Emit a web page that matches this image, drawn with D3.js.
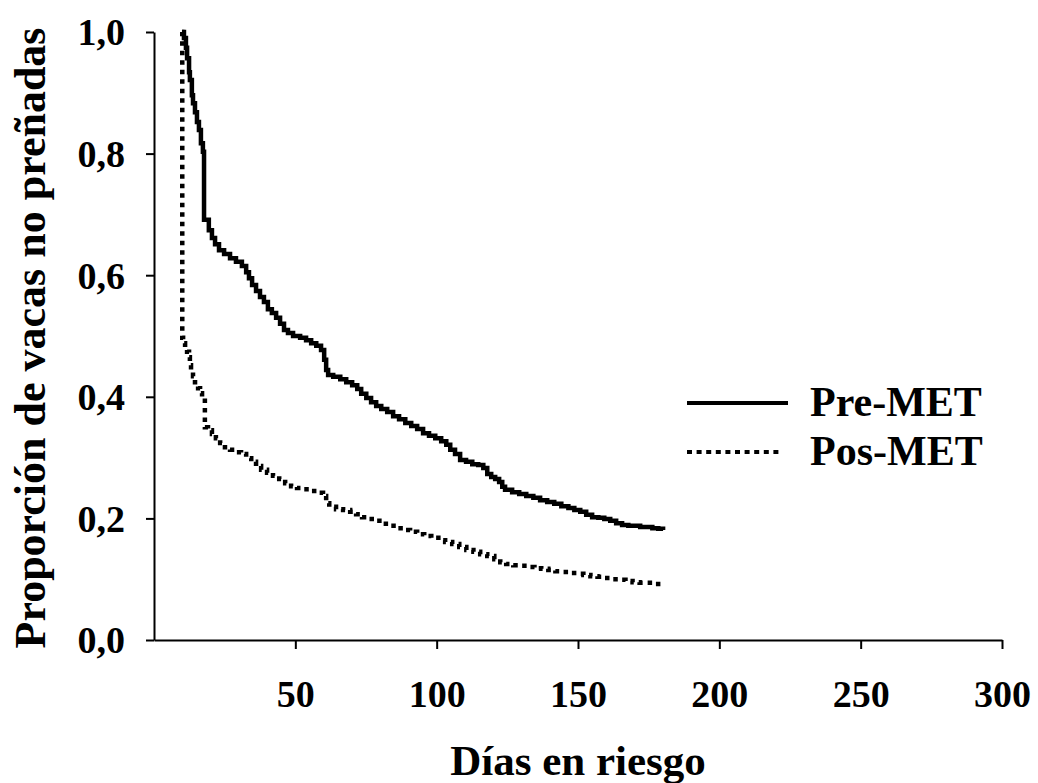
<!DOCTYPE html>
<html>
<head>
<meta charset="utf-8">
<script src="https://cdn.jsdelivr.net/npm/d3@7"></script>
<style>
    body { margin: 0; background: #fff; }
    #chart text { font-family: "Liberation Serif", "Times New Roman", serif; font-weight: bold; fill: #000; }
</style>
</head>
<body>
<div id="chart"></div>
<script>
// Curvas de supervivencia (Kaplan-Meier) - proporción de vacas no preñadas

const xTicks = [50, 100, 150, 200, 250, 300];
const yTicks = [0, 0.2, 0.4, 0.6, 0.8, 1.0];
const seriesNames = ['Pre-MET', 'Pos-MET'];

// Pre-MET: día y proporción después de cada escalón
const preDays = [9.9, 10.6, 11.3, 11.7, 12.4, 12.7, 13.4, 13.8, 14.5, 15.2, 15.9, 16.6, 17.3, 17.7, 19.4, 20.5,
    21.6, 23.0, 24.8, 26.9, 29.0, 31.1, 32.6, 33.6, 34.7, 36.1, 37.5, 38.9, 40.3, 41.7, 43.2, 44.6, 46.0, 47.4,
    49.2, 51.7, 53.8, 55.6, 57.4, 59.1, 60.2, 60.9, 61.6, 63.4, 65.9, 68.0, 70.1, 71.9, 73.3, 75.1, 76.8, 78.6,
    80.4, 82.5, 84.6, 86.7, 88.9, 91.0, 93.1, 95.2, 97.3, 99.5, 101.6, 103.4, 104.8, 106.5, 108.3, 110.4, 112.6,
    114.7, 116.5, 117.9, 119.3, 120.7, 122.1, 123.2, 124.2, 126.7, 129.2, 131.7, 134.2, 136.6, 139.1, 141.6,
    144.1, 146.6, 148.7, 150.8, 152.9, 155.0, 157.2, 159.3, 161.4, 163.5, 165.6, 167.8, 169.9, 172.0, 174.1,
    176.3, 178.4, 180.1];
const preSurv = [1.000, 0.990, 0.974, 0.957, 0.934, 0.921, 0.896, 0.883, 0.868, 0.852, 0.839, 0.817, 0.803, 0.691,
    0.674, 0.661, 0.651, 0.641, 0.635, 0.628, 0.622, 0.615, 0.605, 0.595, 0.584, 0.574, 0.564, 0.556, 0.544, 0.538,
    0.530, 0.520, 0.510, 0.505, 0.500, 0.497, 0.493, 0.488, 0.484, 0.477, 0.461, 0.444, 0.436, 0.433, 0.429, 0.424,
    0.419, 0.413, 0.405, 0.398, 0.391, 0.385, 0.380, 0.375, 0.368, 0.363, 0.357, 0.352, 0.347, 0.340, 0.336, 0.332,
    0.327, 0.321, 0.313, 0.306, 0.296, 0.293, 0.289, 0.288, 0.283, 0.273, 0.268, 0.265, 0.260, 0.252, 0.247, 0.243,
    0.240, 0.237, 0.234, 0.230, 0.227, 0.224, 0.220, 0.217, 0.214, 0.211, 0.206, 0.202, 0.201, 0.199, 0.196, 0.192,
    0.189, 0.188, 0.188, 0.186, 0.186, 0.184, 0.183, 0.181];

// Pos-MET
const posDays = [9.9, 10.0, 10.3, 11.0, 11.7, 12.4, 12.7, 13.1, 13.8, 14.5, 15.6, 16.3, 17.0, 18.0, 19.1, 20.5,
    21.9, 23.4, 25.1, 26.9, 29.0, 30.8, 32.6, 34.4, 36.1, 37.9, 40.0, 42.1, 44.3, 46.4, 48.5, 50.6, 53.1, 55.6,
    58.0, 59.8, 60.9, 62.0, 64.4, 66.9, 69.4, 71.5, 73.6, 75.7, 78.2, 80.7, 83.2, 85.6, 88.1, 90.6, 93.1, 95.6,
    98.1, 100.6, 103.0, 105.5, 108.0, 110.5, 113.0, 115.4, 117.9, 120.4, 122.5, 124.6, 127.1, 129.6, 132.1, 134.6,
    137.0, 139.5, 142.0, 144.5, 147.0, 149.5, 151.9, 154.4, 156.9, 159.4, 161.9, 164.4, 166.8, 169.3, 171.8,
    174.3, 176.8, 180.1];
const posSurv = [1.000, 0.497, 0.488, 0.482, 0.474, 0.465, 0.452, 0.444, 0.434, 0.424, 0.414, 0.406, 0.398, 0.350,
    0.345, 0.339, 0.332, 0.324, 0.317, 0.313, 0.309, 0.306, 0.299, 0.293, 0.286, 0.280, 0.275, 0.270, 0.265, 0.258,
    0.253, 0.250, 0.248, 0.245, 0.242, 0.237, 0.225, 0.219, 0.215, 0.214, 0.211, 0.207, 0.202, 0.199, 0.196, 0.191,
    0.188, 0.184, 0.181, 0.178, 0.174, 0.171, 0.168, 0.164, 0.161, 0.158, 0.153, 0.148, 0.145, 0.141, 0.138, 0.133,
    0.128, 0.125, 0.123, 0.122, 0.120, 0.118, 0.117, 0.115, 0.113, 0.112, 0.110, 0.109, 0.107, 0.105, 0.104, 0.102,
    0.100, 0.099, 0.097, 0.095, 0.094, 0.094, 0.092, 0.092];

const width = 1038;
const height = 783;
const margin = { top: 32, right: 36, bottom: 143, left: 154 };

const svg = d3.select('#chart')
    .append('svg')
    .attr('width', width)
    .attr('height', height);

const x = d3.scaleLinear()
    .domain([0, 300])
    .range([margin.left, width - margin.right]);

const y = d3.scaleLinear()
    .domain([0, 1])
    .range([height - margin.bottom, margin.top]);

// formato con coma decimal
const esFormat = d3.formatLocale({ decimal: ',', thousands: '.', grouping: [3], currency: ['', '€'] }).format('.1f');

// eje X
const xAxis = svg.append('g')
    .attr('transform', `translate(0,${y(0)})`)
    .call(d3.axisBottom(x).tickValues(xTicks).tickSize(9).tickSizeOuter(0).tickFormat(d3.format('d')));

xAxis.select('.domain').attr('stroke-width', 2);
xAxis.selectAll('.tick line').attr('stroke-width', 2);
xAxis.selectAll('.tick text')
    .attr('y', 67)
    .attr('dy', 0)
    .style('font-size', '38px');

// eje Y
const yAxis = svg.append('g')
    .attr('transform', `translate(${x(0)},0)`)
    .call(d3.axisLeft(y).tickValues(yTicks).tickSize(8).tickSizeOuter(0).tickFormat(esFormat));

yAxis.select('.domain').attr('stroke-width', 2);
yAxis.selectAll('.tick line').attr('stroke-width', 2);
yAxis.selectAll('.tick text')
    .attr('x', -29)
    .attr('dy', '0.34em')
    .style('font-size', '38px');

// títulos de los ejes
svg.append('text')
    .attr('x', (x.range()[0] + x.range()[1]) / 2)
    .attr('y', 775)
    .attr('text-anchor', 'middle')
    .style('font-size', '43px')
    .text('Días en riesgo');

svg.append('text')
    .attr('transform', `translate(45,${(y.range()[0] + y.range()[1]) / 2 + 2}) rotate(-90)`)
    .attr('text-anchor', 'middle')
    .style('font-size', '44px')
    .text('Proporción de vacas no preñadas');

// curvas escalonadas
const line = d3.line()
    .x(d => x(d[0]))
    .y(d => y(d[1]))
    .curve(d3.curveStepAfter);

const preData = preDays.map((d, i) => [d, preSurv[i]]);
const posData = posDays.map((d, i) => [d, posSurv[i]]);

svg.append('path')
    .datum(posData)
    .attr('d', line)
    .attr('fill', 'none')
    .attr('stroke', '#000')
    .attr('stroke-width', 4.5)
    .attr('stroke-dasharray', '4.5,5');

svg.append('path')
    .datum(preData)
    .attr('d', line)
    .attr('fill', 'none')
    .attr('stroke', '#000')
    .attr('stroke-width', 4.5);

// leyenda
const legend = svg.append('g').attr('transform', 'translate(687,403)');
seriesNames.forEach((name, i) => {
    const row = legend.append('g').attr('transform', `translate(0,${i * 49})`);
    row.append('line')
        .attr('x1', 0)
        .attr('x2', i === 0 ? 101 : 96)
        .attr('stroke', '#000')
        .attr('stroke-width', 4)
        .attr('stroke-dasharray', i === 0 ? null : '5,4.6');
    row.append('text')
        .attr('x', 123)
        .attr('y', 13)
        .style('font-size', '42px')
        .text(name);
});
</script>
</body>
</html>
